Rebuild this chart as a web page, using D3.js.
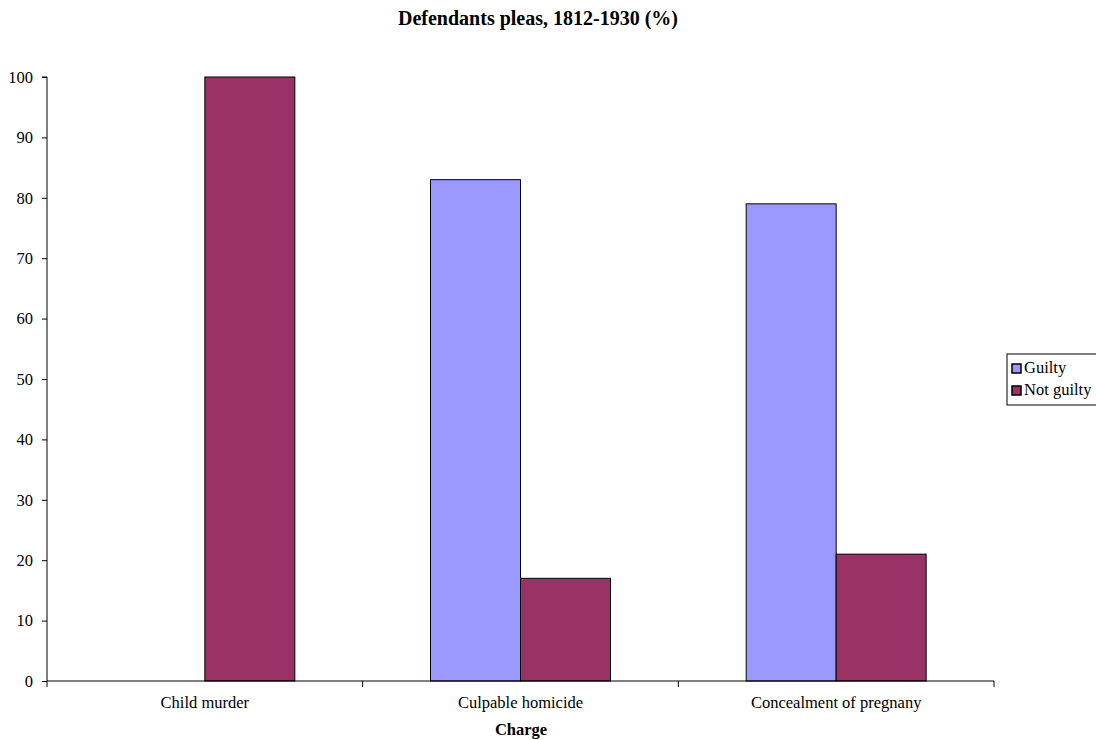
<!DOCTYPE html>
<html><head><meta charset="utf-8">
<script src="https://cdn.jsdelivr.net/npm/d3@7"></script>
<style>body{margin:0;background:#fff}svg{font-family:"Liberation Serif","Times New Roman",serif}</style>
</head><body><svg id="c" width="1096" height="740"></svg>
<script>
const categories = ["Child murder", "Culpable homicide", "Concealment of pregnany"];
const seriesNames = ["Guilty", "Not guilty"];
const guilty = [0, 83, 79];
const notGuilty = [100, 17, 21];
const yTicks = [0,10,20,30,40,50,60,70,80,90,100];
const colors = ["#9999ff", "#993366"];

const svg = d3.select("#c");
const L = 47, R = 994, T = 77, B = 681;
const x = d3.scaleBand().domain(categories).range([L, R]).paddingInner(0).paddingOuter(0);
const x1 = d3.scaleBand().domain(seriesNames).range([0, x.bandwidth()]).paddingInner(0).paddingOuter(0.754);
const y = d3.scaleLinear().domain([0, 100]).range([B, T]);
const series = [guilty, notGuilty];

// bars
categories.forEach((c, i) => {
  seriesNames.forEach((s, j) => {
    const v = series[j][i];
    if (v <= 0) return;
    svg.append("rect")
      .attr("x", x(c) + x1(s)).attr("y", y(v))
      .attr("width", x1.bandwidth()).attr("height", y(0) - y(v))
      .attr("fill", colors[j]).attr("stroke", "#000").attr("stroke-width", 1);
  });
});

// y axis
const ya = svg.append("g").attr("transform", `translate(${L},0)`)
  .call(d3.axisLeft(y).tickValues(yTicks).tickSize(5).tickPadding(9).tickFormat(d3.format("d")));
ya.select(".domain").attr("d", `M-5,${T}H0V${B}`).attr("stroke", "#000");
ya.selectAll("text").attr("font-size", 16.5).attr("font-family", "Liberation Serif").attr("fill", "#000");

// x axis
const xa = svg.append("g").attr("transform", `translate(0,${B})`)
  .call(d3.axisBottom(x).tickSize(0).tickPadding(0));
xa.select(".domain").attr("d", `M${L},0H${R}`).attr("stroke", "#000");
xa.selectAll("text").attr("dy", null).attr("y", 27).attr("font-size", 16.5).attr("font-family", "Liberation Serif").attr("fill", "#000");
const edges = [L].concat(categories.map(c => x(c) + x.bandwidth()));
svg.selectAll(".xt").data(edges).enter().append("line")
  .attr("x1", d => d).attr("x2", d => d).attr("y1", B).attr("y2", B + 6).attr("stroke", "#000");

// titles
svg.append("text").attr("x", 538).attr("y", 25).attr("text-anchor", "middle")
  .attr("font-size", 20).attr("font-weight", "bold").text("Defendants pleas, 1812-1930 (%)");
svg.append("text").attr("x", 521).attr("y", 735).attr("text-anchor", "middle")
  .attr("font-size", 16.5).attr("font-weight", "bold").text("Charge");

// legend
const lg = svg.append("g").attr("transform", "translate(1007,354)");
lg.append("rect").attr("x", 0).attr("y", 0).attr("width", 100).attr("height", 51)
  .attr("fill", "#fff").attr("stroke", "#000");
seriesNames.forEach((s, j) => {
  lg.append("rect").attr("x", 5).attr("y", 10 + j * 22).attr("width", 9).attr("height", 9)
    .attr("fill", colors[j]).attr("stroke", "#000").attr("stroke-width", 1.5);
  lg.append("text").attr("x", 17).attr("y", 19 + j * 22).attr("font-size", 16.5).text(s);
});
</script></body></html>
